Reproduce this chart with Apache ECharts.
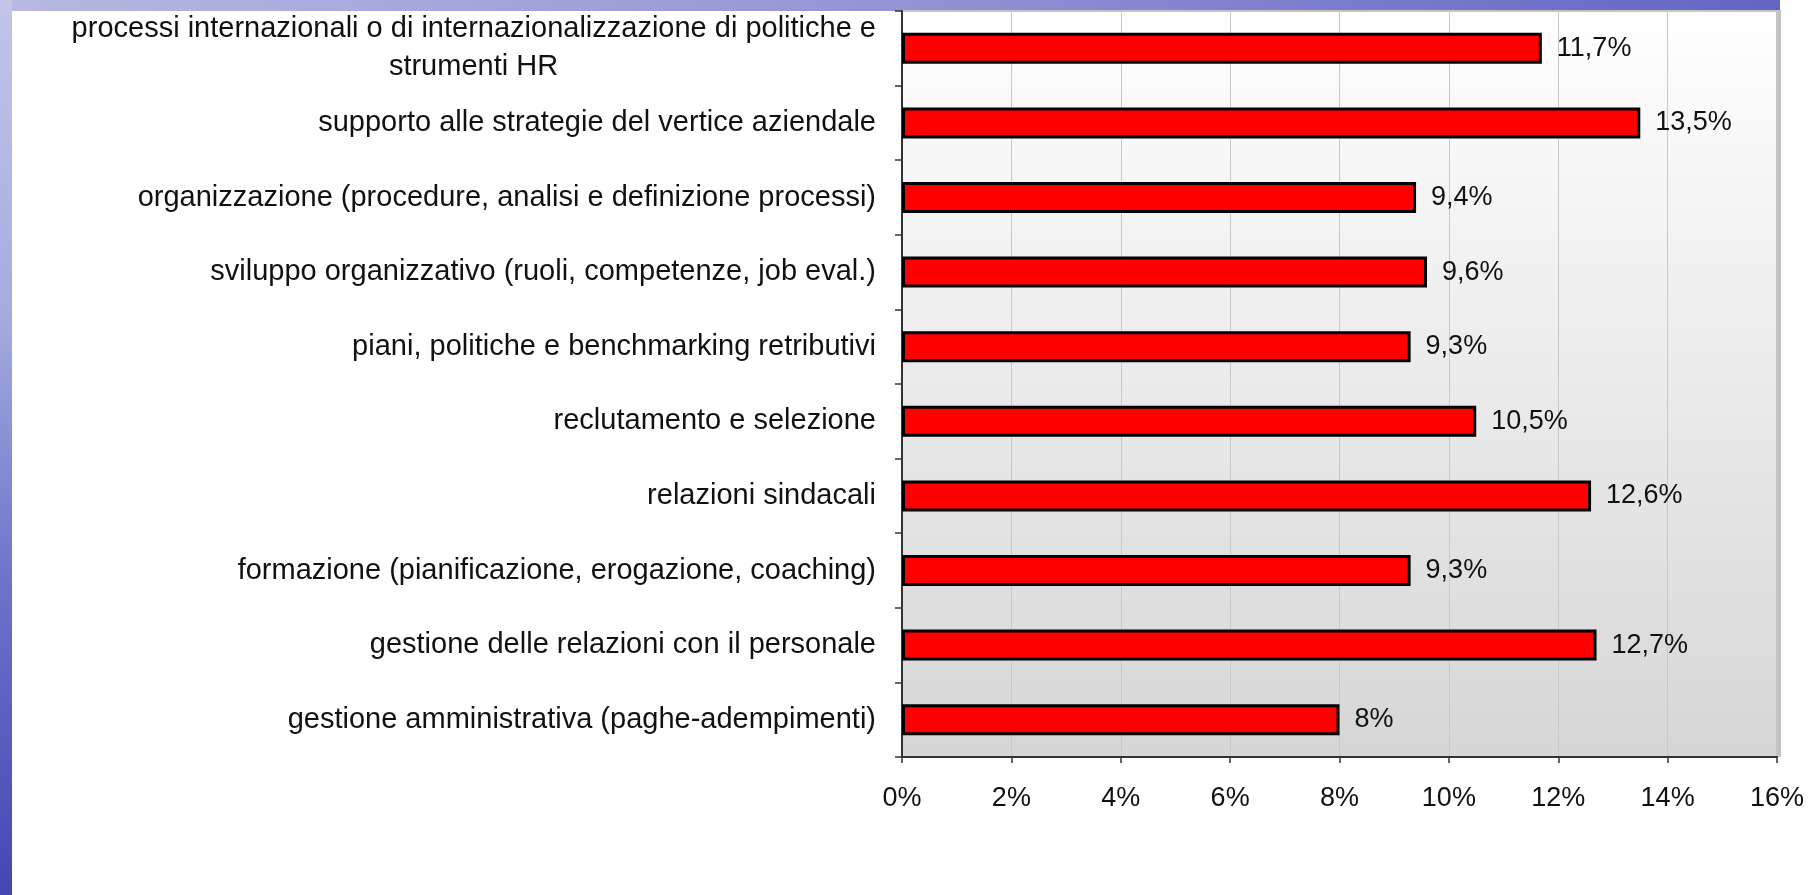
<!DOCTYPE html>
<html>
<head>
<meta charset="utf-8">
<script src="https://cdn.jsdelivr.net/npm/echarts@6/dist/echarts.min.js"></script>
<style>
  html, body { margin: 0; padding: 0; background: #ffffff; }
  #chart { width: 1814px; height: 895px; }
</style>
</head>
<body>
<div id="chart"></div>
<script>
// HR activity areas, listed top to bottom
const categories = [
  'processi internazionali o di internazionalizzazione di politiche e\nstrumenti HR',
  'supporto alle strategie del vertice aziendale',
  'organizzazione (procedure, analisi e definizione processi)',
  'sviluppo organizzativo (ruoli, competenze, job eval.)',
  'piani, politiche e benchmarking retributivi',
  'reclutamento e selezione',
  'relazioni sindacali',
  'formazione (pianificazione, erogazione, coaching)',
  'gestione delle relazioni con il personale',
  'gestione amministrativa (paghe-adempimenti)'
];
// Share of answers, percent
const shares = [11.7, 13.5, 9.4, 9.6, 9.3, 10.5, 12.6, 9.3, 12.7, 8];
// Value axis ticks, percent
const axisTicks = [0, 2, 4, 6, 8, 10, 12, 14, 16];

const FONT = 'Liberation Sans, Arial, sans-serif';
const CAT_SIZE = 29;
const fmtPct = v => String(v).replace('.', ',') + '%';

// width of a text line, used to centre the wrapped line of a two-line label
const measureCtx = document.createElement('canvas').getContext('2d');
function textWidth(s, size) {
  measureCtx.font = size + 'px ' + FONT;
  return Math.ceil(measureCtx.measureText(s).width);
}

const chart = echarts.init(document.getElementById('chart'));
const gridLeft = 902, gridRight = 37, gridTop = 11, gridBottom = 138;

chart.setOption({
  animation: false,
  graphic: [
    // slide frame: top band
    {
      type: 'rect', z: -10,
      shape: { x: 0, y: 0, width: 1780, height: 11 },
      style: { fill: new echarts.graphic.LinearGradient(0, 0, 1, 0, [
        { offset: 0, color: '#b8b8e2' },
        { offset: 0.5, color: '#9494d6' },
        { offset: 1, color: '#6464c4' }
      ]) }
    },
    // slide frame: left band
    {
      type: 'rect', z: -10,
      shape: { x: 0, y: 0, width: 12, height: 895 },
      style: { fill: new echarts.graphic.LinearGradient(0, 0, 0, 1, [
        { offset: 0, color: '#c4c4ea' },
        { offset: 0.35, color: '#a4acde' },
        { offset: 0.65, color: '#6e72ca' },
        { offset: 1, color: '#4646b4' }
      ]) }
    },
    // plot-area shadow on the right
    {
      type: 'rect', z: -1,
      shape: { x: 1814 - gridRight - 1, y: gridTop - 1, width: 5, height: 895 - gridTop - gridBottom + 1 },
      style: { fill: '#c2c2c2' }
    }
  ],
  grid: {
    left: gridLeft, right: gridRight, top: gridTop, bottom: gridBottom,
    show: true,
    borderColor: '#c4c4c4',
    borderWidth: 2,
    backgroundColor: new echarts.graphic.LinearGradient(0, 0, 0, 1, [
      { offset: 0, color: '#ffffff' },
      { offset: 1, color: '#d6d6d6' }
    ])
  },
  xAxis: {
    type: 'value',
    min: axisTicks[0],
    max: axisTicks[axisTicks.length - 1],
    interval: axisTicks[1] - axisTicks[0],
    axisLine: { show: true, lineStyle: { color: '#333333', width: 2 } },
    axisTick: { show: true, length: 6, lineStyle: { color: '#333333', width: 1.5 } },
    splitLine: { show: true, lineStyle: { color: '#c8c8c8', width: 1 } },
    axisLabel: {
      formatter: v => v + '%',
      color: '#111111',
      fontFamily: FONT,
      fontSize: 27,
      margin: 28
    }
  },
  yAxis: {
    type: 'category',
    inverse: true,
    data: categories,
    axisLine: { show: true, lineStyle: { color: '#333333', width: 2 } },
    axisTick: { show: true, length: 7, lineStyle: { color: '#333333', width: 1.5 } },
    splitLine: { show: false },
    axisLabel: {
      color: '#111111',
      fontFamily: FONT,
      fontSize: CAT_SIZE,
      lineHeight: 38,
      margin: 26,
      formatter: function (value) {
        const lines = value.split('\n');
        if (lines.length === 1) return value;
        const w = textWidth(lines[0], CAT_SIZE);
        return '{a|' + lines[0] + '}\n{b' + '|' + lines[1] + '}';
      },
      rich: {
        a: { fontFamily: FONT, fontSize: CAT_SIZE, lineHeight: 38, color: '#111111' },
        b: {
          fontFamily: FONT, fontSize: CAT_SIZE, lineHeight: 38, color: '#111111',
          width: textWidth(categories[0].split('\n')[0], CAT_SIZE), align: 'center'
        }
      }
    }
  },
  series: [{
    type: 'bar',
    data: shares,
    barWidth: 31,
    itemStyle: { color: '#ff0000', borderColor: '#000000', borderWidth: 3 },
    label: {
      show: true,
      position: 'right',
      distance: 15,
      formatter: p => fmtPct(p.value),
      color: '#111111',
      fontFamily: FONT,
      fontSize: 27
    }
  }]
});
</script>
</body>
</html>
